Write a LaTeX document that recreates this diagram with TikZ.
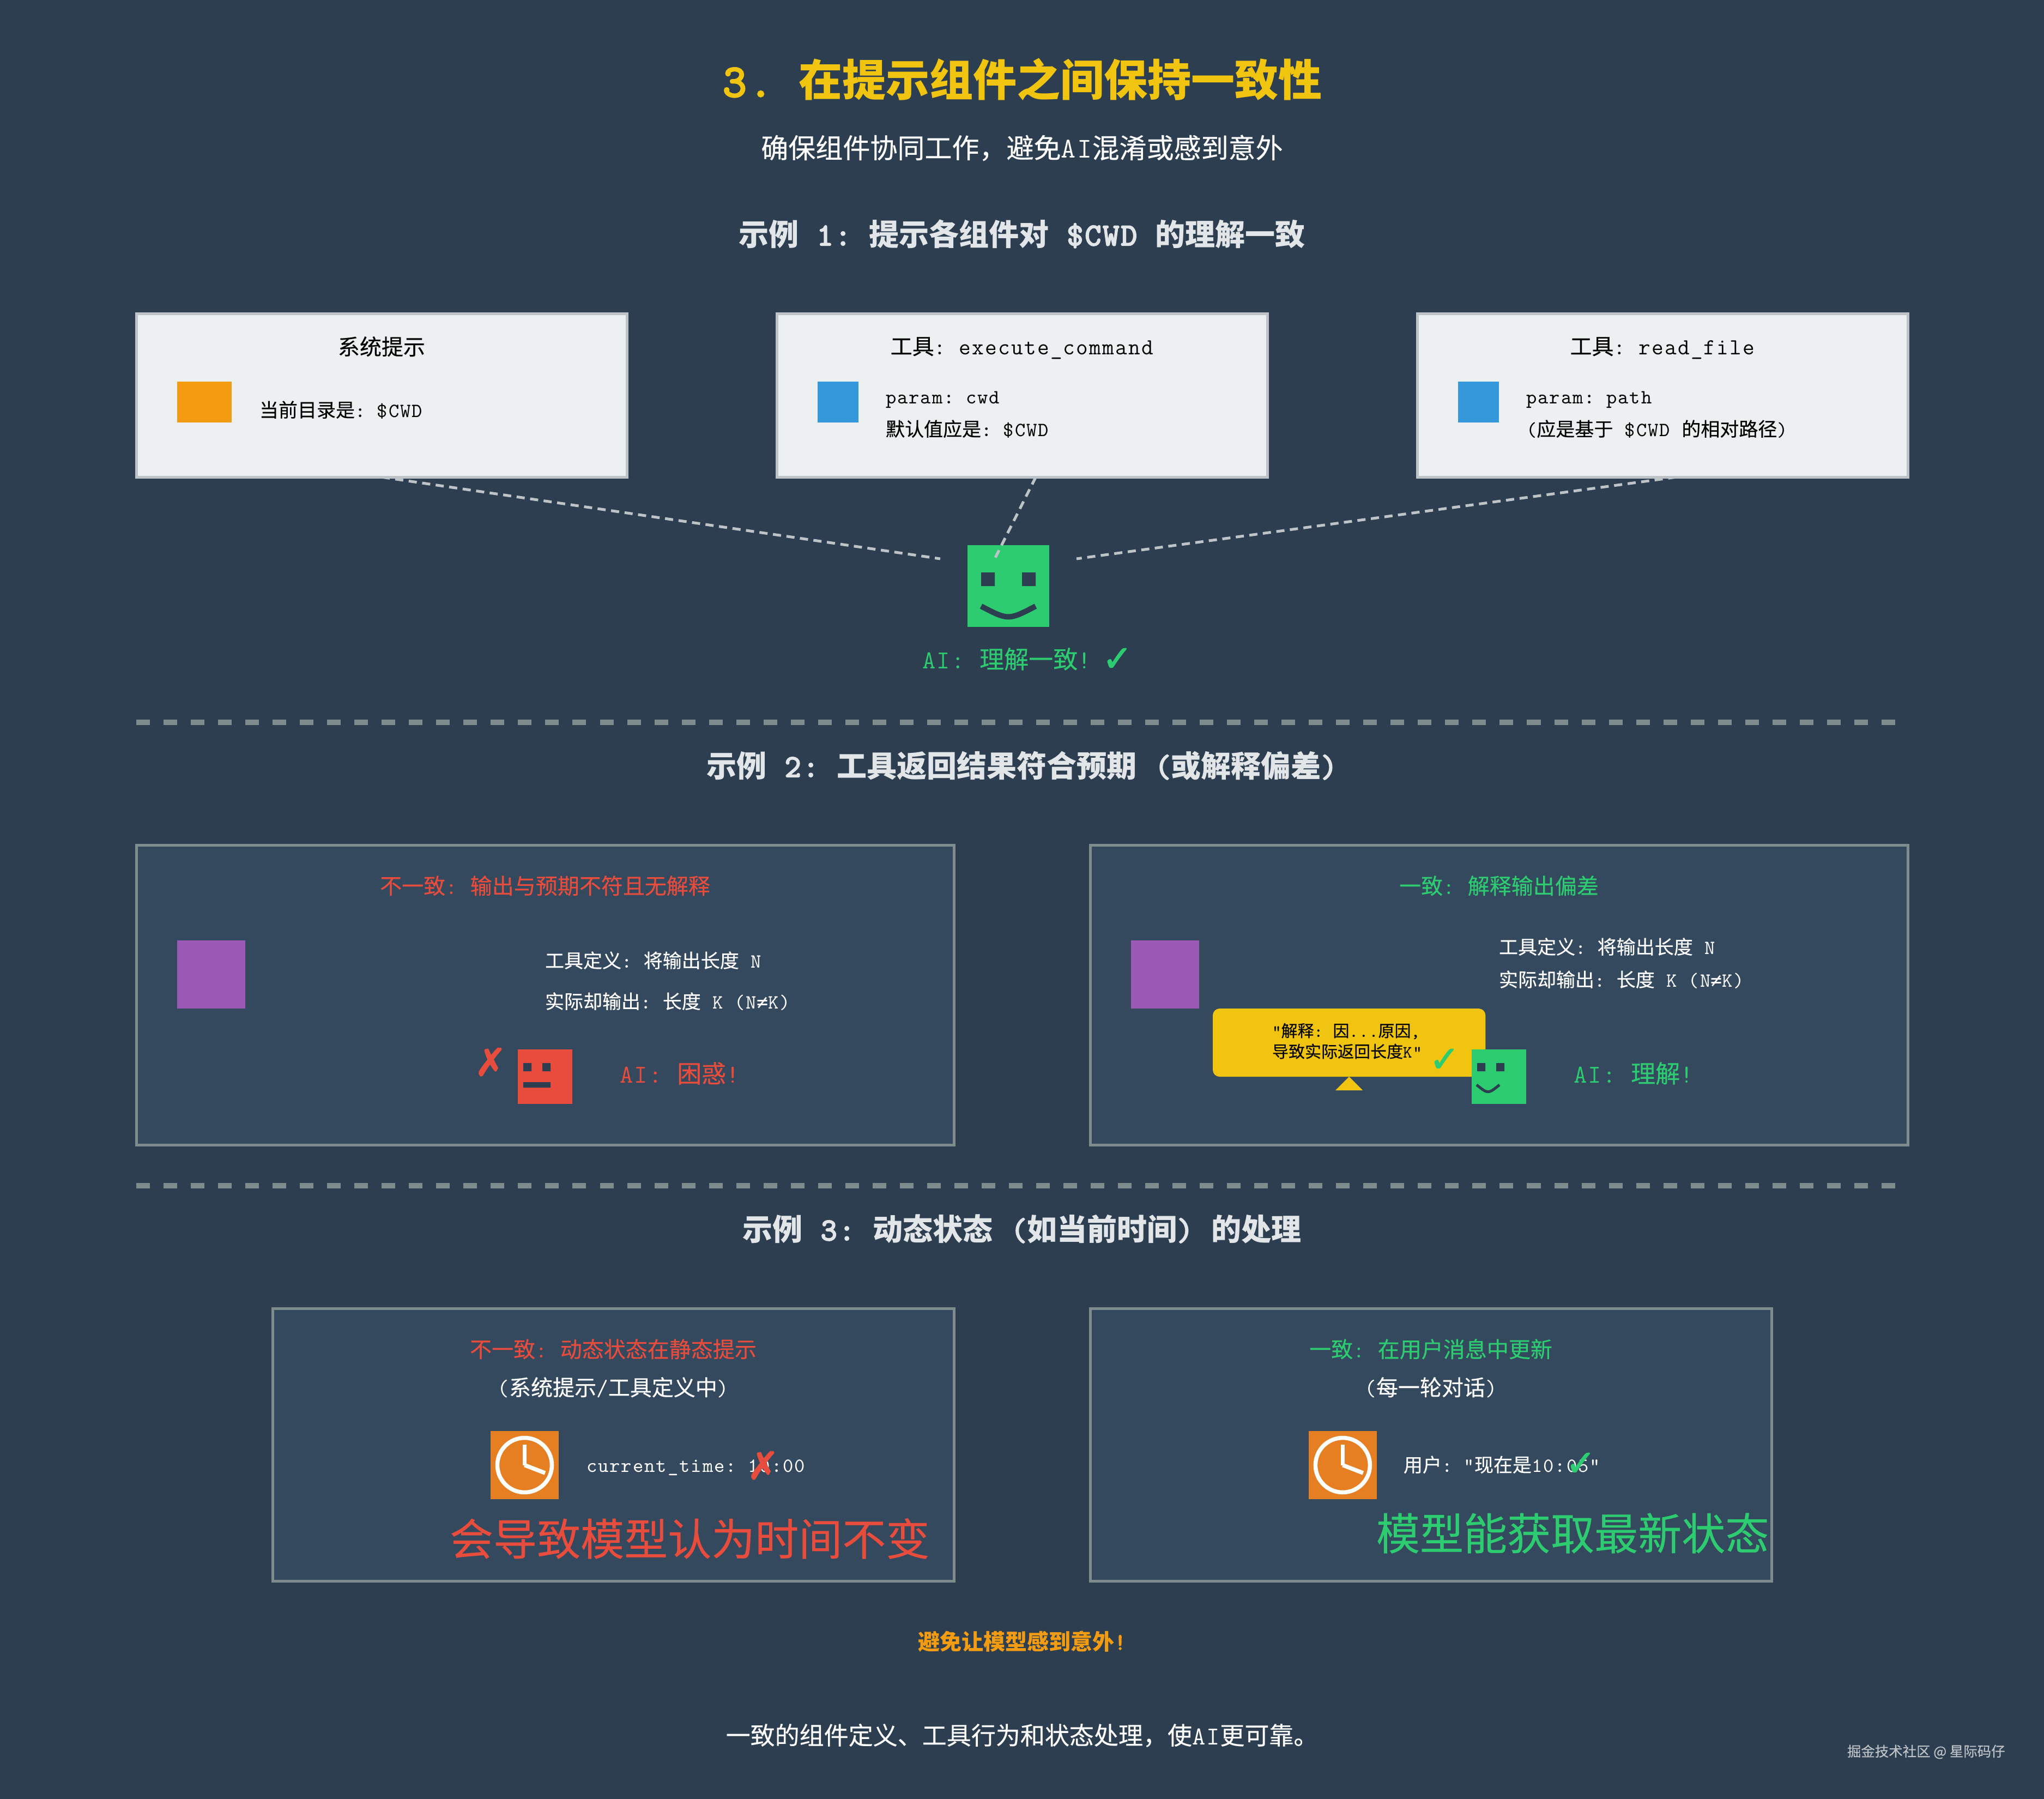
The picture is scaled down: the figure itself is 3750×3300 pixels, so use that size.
\documentclass[tikz,border=0pt]{standalone}
\usepackage{fontspec}
\usepackage{xcolor}
\setmainfont{Noto Sans CJK SC}[UprightFeatures={FakeBold=0.3}]
\setmonofont{Latin Modern Mono}[Scale=1.05,LetterSpace=5.5,AutoFakeBold=4]
\newfontfamily\marksym{DejaVu Sans}[FakeBold=2]
\newfontfamily\monosym{DejaVu Sans Mono}
\usetikzlibrary{calc}
\definecolor{bgdark}{RGB}{44, 62, 80}
\definecolor{panelblue}{RGB}{52, 73, 94}
\definecolor{panelgray}{RGB}{127, 140, 141}
\definecolor{lightfill}{RGB}{236, 240, 241}
\definecolor{lightedge}{RGB}{189, 195, 199}
\definecolor{headgray}{RGB}{226, 230, 232}
\definecolor{titleyellow}{RGB}{241, 196, 15}
\definecolor{noteorange}{RGB}{243, 156, 18}
\definecolor{clockorange}{RGB}{230, 126, 34}
\definecolor{toolblue}{RGB}{52, 152, 219}
\definecolor{okgreen}{RGB}{46, 204, 113}
\definecolor{badred}{RGB}{231, 76, 60}
\definecolor{resultpurple}{RGB}{155, 89, 182}
\newcommand{\mono}[1]{{\ttfamily #1}}
\newcommand{\fsize}[1]{\fontsize{\fpeval{#1*0.2845}}{\fpeval{#1*0.34}}\selectfont}

\begin{document}
\begin{tikzpicture}[x=0.01cm, y=-0.01cm,
	txt/.style={inner sep=0pt, outer sep=0pt, anchor=base west},
	mid/.style={inner sep=0pt, outer sep=0pt, anchor=base},
	sign/.style={inner sep=0pt, outer sep=0pt, anchor=center},
	lightbox/.style={draw=lightedge, fill=lightfill, line width=0.05cm, inner sep=0pt, outer sep=0pt,
		minimum width=9cm, minimum height=3cm, anchor=north west},
	panel/.style={draw=panelgray, fill=panelblue, line width=0.05cm, inner sep=0pt, outer sep=0pt, anchor=north west},
	icon/.style={inner sep=0pt, outer sep=0pt, anchor=north west},
	divider/.style={panelgray, line width=0.1cm, dash pattern=on 0.25cm off 0.25cm},
	link/.style={lightedge, line width=0.05cm, dash pattern=on 0.15cm off 0.1cm}]

	\fill[bgdark] (0,0) rectangle (3750,3300);
	\useasboundingbox (0,0) rectangle (3750,3300);

	%--- Heading ---
	\node[mid, text=titleyellow, font=\bfseries\fsize{80}] (title) at (1876,177) {\mono{3. }在提示组件之间保持一致性};
	\node[mid, text=white, font=\fsize{50}] (subtitle) at (1875,290) {确保组件协同工作，避免\mono{AI}混淆或感到意外};
	\node[mid, text=headgray, font=\bfseries\fsize{55}] (headone) at (1875,450) {示例\mono{ 1: }提示各组件对\mono{ \$CWD }的理解一致};

	%--- Example 1: three components and the robot ---
	\node[lightbox] (sysbox) at (250,575) {};
	\node[icon, fill=noteorange, minimum width=1cm, minimum height=0.75cm] (sysicon) at (325,700) {};
	\node[mid, font=\fsize{40}] (systitle) at (700,651) {系统提示};
	\node[txt, font=\fsize{35}] (systext) at (476,765) {当前目录是\mono{: \$CWD}};

	\node[lightbox] (cmdbox) at (1425,575) {};
	\node[icon, fill=toolblue, minimum width=0.75cm, minimum height=0.75cm] (cmdicon) at (1500,700) {};
	\node[mid, font=\fsize{40}] (cmdtitle) at (1875,650) {工具\mono{: execute\_command}};
	\node[txt, font=\fsize{35}] (cmdparam) at (1625,740) {\mono{param: cwd}};
	\node[txt, font=\fsize{35}] (cmdtext) at (1625,800) {默认值应是\mono{: \$CWD}};

	\node[lightbox] (readbox) at (2600,575) {};
	\node[icon, fill=toolblue, minimum width=0.75cm, minimum height=0.75cm] (readicon) at (2675,700) {};
	\node[mid, font=\fsize{40}] (readtitle) at (3050,650) {工具\mono{: read\_file}};
	\node[txt, font=\fsize{35}] (readparam) at (2800,740) {\mono{param: path}};
	\node[txt, font=\fsize{35}] (readtext) at (2800,800) {\mono{(}应是基于\mono{ \$CWD }的相对路径\mono{)}};

	\node[icon, fill=okgreen, minimum width=1.5cm, minimum height=1.5cm] (airobot) at (1775,1000) {};
	\fill[bgdark] (1800,1050) rectangle (1825,1075) (1875,1050) rectangle (1900,1075);
	\draw[bgdark, line width=0.1cm] (1800,1112) .. controls (1850,1138) .. (1900,1112);

	\coordinate (cmdfoot) at ($(cmdbox.south)+(25,0)$);
	\coordinate (readfoot) at ($(readbox.south)+(25,0)$);
	\coordinate (aileft) at (1725,1025);
	\coordinate (aitop) at (1825,1025);
	\coordinate (airight) at (1975,1025);
	\draw[link] (sysbox.south) -- (aileft);
	\draw[link] (cmdfoot) -- (aitop);
	\draw[link] (readfoot) -- (airight);

	\node[txt, text=okgreen, font=\fsize{45}] (aitext) at (1692,1226) {\mono{AI: }理解一致\mono{!}};
	\node[sign, text=okgreen, font=\marksym\fsize{66}] (aicheck) at (2050,1210) {✓};

	\draw[divider] (250,1325) -- (3500,1325);

	%--- Example 2: tool result against expectation ---
	\node[mid, text=headgray, font=\bfseries\fsize{55}] (headtwo) at (1875,1425) {示例\mono{ 2: }工具返回结果符合预期\mono{ (}或解释偏差\mono{)}};

	\node[panel, minimum width=15cm, minimum height=5.5cm] (badresult) at (250,1550) {};
	\node[mid, text=badred, font=\fsize{40}] (badresulthead) at (1000,1640) {不一致\mono{: }输出与预期不符且无解释};
	\node[icon, fill=resultpurple, minimum width=1.25cm, minimum height=1.25cm] (badresulticon) at (325,1725) {};
	\node[txt, text=white, font=\fsize{35}] (badresultdef) at (1000,1775) {工具定义\mono{: }将输出长度\mono{ N}};
	\node[txt, text=white, font=\fsize{35}] (badresultout) at (1000,1850) {实际却输出\mono{: }长度\mono{ K (N{\monosym ≠}K)}};
	\node[icon, fill=badred, minimum width=1cm, minimum height=1cm] (badrobot) at (950,1925) {};
	\fill[bgdark] (960,1950) rectangle (975,1965) (995,1950) rectangle (1010,1965) (960,1985) rectangle (1010,1995);
	\node[sign, text=badred, font=\marksym\fsize{70}] (badcross) at (900,1948) {✗};
	\node[txt, text=badred, font=\fsize{45}] (badrobottext) at (1137,1986) {\mono{AI: }困惑\mono{!}};

	\node[panel, minimum width=15cm, minimum height=5.5cm] (goodresult) at (2000,1550) {};
	\node[mid, text=okgreen, font=\fsize{40}] (goodresulthead) at (2750,1640) {一致\mono{: }解释输出偏差};
	\node[icon, fill=resultpurple, minimum width=1.25cm, minimum height=1.25cm] (goodresulticon) at (2075,1725) {};
	\node[txt, text=white, font=\fsize{35}] (goodresultdef) at (2750,1750) {工具定义\mono{: }将输出长度\mono{ N}};
	\node[txt, text=white, font=\fsize{35}] (goodresultout) at (2750,1810) {实际却输出\mono{: }长度\mono{ K (N{\monosym ≠}K)}};
	\node[icon, fill=titleyellow, rounded corners=0.125cm, minimum width=5cm, minimum height=1.25cm] (bubble) at (2225,1850) {};
	\fill[titleyellow] (bubble.south) -- (2450,2000) -- (2500,2000) -- cycle;
	\node[txt, font=\fsize{30}] (bubbleone) at (2334,1902) {\mono{"}解释\mono{: }因\mono{...}原因\mono{,}};
	\node[txt, font=\fsize{30}] (bubbletwo) at (2334,1940) {导致实际返回长度\mono{K"}};
	\node[sign, text=okgreen, font=\marksym\fsize{66}] (bubblecheck) at (2650,1945) {✓};
	\node[icon, fill=okgreen, minimum width=1cm, minimum height=1cm] (goodrobot) at (2700,1925) {};
	\fill[bgdark] (2710,1950) rectangle (2725,1965) (2745,1950) rectangle (2760,1965);
	\draw[bgdark, line width=0.05cm] (2709,1990) .. controls (2730,2007) .. (2751,1990);
	\node[txt, text=okgreen, font=\fsize{45}] (goodrobottext) at (2887,1986) {\mono{AI: }理解\mono{!}};

	\draw[divider] (250,2175) -- (3500,2175);

	%--- Example 3: dynamic state ---
	\node[mid, text=headgray, font=\bfseries\fsize{55}] (headthree) at (1875,2275) {示例\mono{ 3: }动态状态\mono{ (}如当前时间\mono{) }的处理};

	\node[panel, minimum width=12.5cm, minimum height=5cm] (staticpanel) at (500,2400) {};
	\node[mid, text=badred, font=\fsize{40}] (statichead) at (1125,2490) {不一致\mono{: }动态状态在静态提示};
	\node[mid, text=white, font=\fsize{40}] (staticsub) at (1125,2560) {\mono{(}系统提示\mono{/}工具定义中\mono{)}};
	\begin{scope}
		\fill[clockorange] (900,2625) rectangle (1025,2750);
		\draw[white, line width=0.075cm] (962.5,2687.5) circle (50);
		\draw[white, line width=0.075cm] (962.5,2650) -- (962.5,2687.5);
		\draw[white, line width=0.075cm] (962.5,2687.5) -- (1000,2702);
	\end{scope}
	\node[txt, text=white, font=\fsize{35}] (statictime) at (1076,2700) {\mono{current\_time: 10:00}};
	\node[sign, text=badred, font=\marksym\fsize{70}] (staticcross) at (1400,2688) {✗};
	\node[txt, text=badred, font=\fsize{80}] (staticnote) at (825,2853) {会导致模型认为时间不变};

	\node[panel, minimum width=12.5cm, minimum height=5cm] (userpanel) at (2000,2400) {};
	\node[mid, text=okgreen, font=\fsize{40}] (userhead) at (2625,2490) {一致\mono{: }在用户消息中更新};
	\node[mid, text=white, font=\fsize{40}] (usersub) at (2625,2560) {\mono{(}每一轮对话\mono{)}};
	\begin{scope}[xshift=15cm]
		\fill[clockorange] (900,2625) rectangle (1025,2750);
		\draw[white, line width=0.075cm] (962.5,2687.5) circle (50);
		\draw[white, line width=0.075cm] (962.5,2650) -- (962.5,2687.5);
		\draw[white, line width=0.075cm] (962.5,2687.5) -- (1000,2702);
	\end{scope}
	\node[txt, text=white, font=\fsize{35}] (usertime) at (2575,2700) {用户\mono{: "}现在是\mono{10:05"}};
	\node[sign, text=okgreen, font=\marksym\fsize{66}] (usercheck) at (2900,2686) {✓};
	\node[txt, text=okgreen, font=\fsize{80}] (usernote) at (2525,2843) {模型能获取最新状态};

	%--- Closing lines ---
	\node[mid, text=noteorange, font=\bfseries\fsize{40}] (closenote) at (1875,3026) {避免让模型感到意外\mono{!}};
	\node[mid, text=white, font=\fsize{45}] (closeline) at (1875,3200) {一致的组件定义、工具行为和状态处理，使\mono{AI}更可靠。};
	\node[txt, text=lightedge, font=\fsize{25.4}] (credit) at (3389,3222) {掘金技术社区 @ 星际码仔};
\end{tikzpicture}
\end{document}
